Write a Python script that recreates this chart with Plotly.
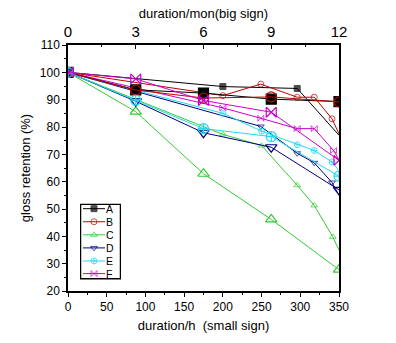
import plotly.graph_objects as go

# Time axes
months = [0, 3, 6, 9, 12]                       # big signs, top axis
hours_A = [0, 200, 296, 350]
hours_B = [0, 200, 249, 296, 318, 341, 350]
hours_C = [0, 200, 250, 296, 318, 342, 350]
hours_D = [0, 249, 296, 318, 341, 350]
hours_E = [0, 200, 250, 296, 318, 341, 350]
hours_F = [0, 200, 249, 296, 318, 343, 350]

# Gloss retention (%) - big signs (months)
big_A = [100, 93.6, 92.4, 90.2, 89.3]
big_B = [100, 93.5, 90.6, 91.0, 89.2]
big_C = [100, 85.6, 62.9, 46.2, 27.8]
big_D = [100, 89.4, 77.9, 72.6, 57.0]
big_E = [100, 89.8, 79.4, 76.5, 62.0]
big_F = [100, 97.6, 89.7, 85.4, 67.8]

# Gloss retention (%) - small signs (hours)
small_A = [100, 94.8, 94.1, 77.0]
small_B = [100, 91.5, 95.7, 90.9, 90.9, 83.0, 77.5]
small_C = [100, 77.3, 73.2, 58.7, 51.3, 39.8, 35.0]
small_D = [100, 80.2, 70.4, 66.9, 59.7, 55.0]
small_E = [100, 85.0, 78.5, 73.5, 71.4, 67.2, 64.0]
small_F = [100, 87.0, 83.2, 79.4, 79.4, 71.4, 68.0]

names = ["A", "B", "C", "D", "E", "F"]
colors = ["#000000", "#C00000", "#33CC33", "#000080", "#22D8F0", "#CC00CC"]
symbols = ["square", "circle-open", "triangle-up-open", "triangle-down-open",
           "circle-cross-open", "bowtie-open"]
bigs = [big_A, big_B, big_C, big_D, big_E, big_F]
smalls = [small_A, small_B, small_C, small_D, small_E, small_F]
small_x = [hours_A, hours_B, hours_C, hours_D, hours_E, hours_F]

fig = go.Figure()
for n, c, s, yb, ys, xs in zip(names, colors, symbols, bigs, smalls, small_x):
    # small-sign series (hours); the last point only carries the line to the frame
    sizes = [6] * (len(xs) - 1) + [0]
    fig.add_trace(go.Scatter(
        x=xs, y=ys, mode="lines+markers", name=n, showlegend=False,
        line=dict(color=c, width=1),
        marker=dict(symbol=s, size=sizes, color=c, line=dict(color=c, width=1)),
        xaxis="x", yaxis="y"))
    # big-sign series (months)
    fig.add_trace(go.Scatter(
        x=months, y=yb, mode="lines+markers", name=n, showlegend=False,
        line=dict(color=c, width=1),
        marker=dict(symbol=s, size=10, color=c, line=dict(color=c, width=1.2)),
        xaxis="x2", yaxis="y"))

# Compact boxed key drawn on its own small axis pair (pixel-like units)
key_y = [210, 223.5, 237, 250.5, 264, 277]
annotations = []
for n, c, s, yc in zip(names, colors, symbols, key_y):
    fig.add_trace(go.Scatter(
        x=[83, 94, 105], y=[yc, yc, yc], mode="lines+markers", showlegend=False,
        hoverinfo="skip",
        line=dict(color=c, width=1),
        marker=dict(symbol=s, size=[0, 6, 0], color=c, line=dict(color=c, width=1)),
        xaxis="x3", yaxis="y3"))
    annotations.append(dict(x=104.5, y=yc, xref="x3", yref="y3", text=n,
                            showarrow=False, xanchor="left", yanchor="middle",
                            borderpad=0, font=dict(size=10.5, color="black")))

font = "Liberation Sans, Arial, sans-serif"
fig.update_layout(
    width=396, height=343,
    margin=dict(l=68, r=57, t=41, b=48),
    paper_bgcolor="white", plot_bgcolor="white",
    font=dict(family=font, size=12, color="black"),
    showlegend=False,
    xaxis=dict(range=[0, 350], tickvals=[0, 50, 100, 150, 200, 250, 300, 350],
               ticks="outside", ticklen=4, tickwidth=1, tickcolor="black",
               minor=dict(dtick=25, ticks="outside", ticklen=2, tickcolor="black"),
               showline=True, linecolor="black", linewidth=1.5,
               showgrid=False, zeroline=False,
               tickfont=dict(size=12),
               title=dict(text="duration/h  (small sign)", font=dict(size=13), standoff=8)),
    xaxis2=dict(range=[0, 12], tickvals=[0, 3, 6, 9, 12], overlaying="x", side="top",
                ticks="inside", ticklen=4, tickcolor="black",
                minor=dict(dtick=1.5, ticks="inside", ticklen=2, tickcolor="black"),
                showline=True, linecolor="black", linewidth=1.5,
                showgrid=False, zeroline=False,
                tickfont=dict(size=15),
                title=dict(text="duration/mon(big sign)", font=dict(size=13), standoff=2)),
    yaxis=dict(range=[20, 110], tickvals=list(range(20, 111, 10)),
               ticks="outside", ticklen=4, tickcolor="black",
               minor=dict(dtick=5, ticks="outside", ticklen=2, tickcolor="black"),
               showline=True, linecolor="black", linewidth=1.5, mirror=True,
               showgrid=False, zeroline=False,
               tickfont=dict(size=12),
               title=dict(text="gloss retention (%)", font=dict(size=13), standoff=6)),
    xaxis3=dict(domain=[(80 - 68) / 271, (121 - 68) / 271], range=[80, 121],
                anchor="y3", visible=False, fixedrange=True),
    yaxis3=dict(domain=[(295 - 283) / 254, (295 - 205) / 254], range=[283, 205],
                anchor="x3", visible=False, fixedrange=True),
    shapes=[dict(type="rect", xref="x3", yref="y3", x0=80, x1=121, y0=205, y1=283,
                 line=dict(color="black", width=2.5), fillcolor="white", layer="below")],
    annotations=annotations,
)

fig.write_html("out.html")
